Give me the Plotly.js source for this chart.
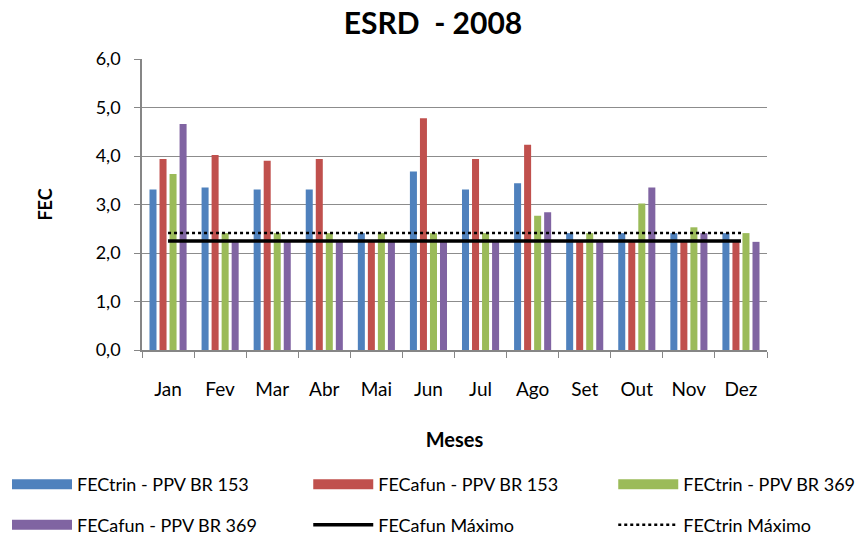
<!DOCTYPE html>
<html>
<head>
<meta charset="utf-8">
<script src="https://cdn.plot.ly/plotly-3.0.1.min.js"></script>
<style>
  html, body { margin: 0; padding: 0; background: #fff; }
  #chart { width: 866px; height: 537px; }
</style>
</head>
<body>
<div id="chart"></div>
<script>
const meses = ["Jan", "Fev", "Mar", "Abr", "Mai", "Jun", "Jul", "Ago", "Set", "Out", "Nov", "Dez"];

// valores
const trin153 = [3.31, 3.35, 3.31, 3.31, 2.41, 3.68, 3.31, 3.44, 2.41, 2.41, 2.41, 2.41];
const afun153 = [3.94, 4.02, 3.90, 3.94, 2.23, 4.78, 3.94, 4.23, 2.23, 2.23, 2.23, 2.23];
const trin369 = [3.63, 2.41, 2.41, 2.41, 2.41, 2.41, 2.41, 2.77, 2.41, 3.02, 2.53, 2.41];
const afun369 = [4.66, 2.23, 2.23, 2.23, 2.23, 2.23, 2.23, 2.84, 2.23, 3.35, 2.41, 2.23];
const afunMax = [2.25, 2.25, 2.25, 2.25, 2.25, 2.25, 2.25, 2.25, 2.25, 2.25, 2.25, 2.25];
const trinMax = [2.41, 2.41, 2.41, 2.41, 2.41, 2.41, 2.41, 2.41, 2.41, 2.41, 2.41, 2.41];

const nomes = ["FECtrin - PPV BR 153", "FECafun - PPV BR 153", "FECtrin - PPV BR 369", "FECafun - PPV BR 369"];
const cores = ["#4F81BD", "#C0504D", "#9BBB59", "#8064A2"];
const series = [trin153, afun153, trin369, afun369];
// coluna da legenda de cada série (3 colunas, 2 linhas)
const colLeg = ["legend", "legend2", "legend3", "legend"];

const traces = [];
// barras (sem legenda)
series.forEach((s, i) => {
  traces.push({
    type: "bar", x: meses, y: s, name: nomes[i], showlegend: false,
    marker: { color: cores[i], line: { width: 0 } },
    hoverinfo: "y",
  });
});
// entradas de legenda com retângulo largo
series.forEach((s, i) => {
  traces.push({
    type: "scatter", mode: "lines", x: [meses[0]], y: [null], name: nomes[i],
    legend: colLeg[i], legendgroup: "g" + i,
    line: { color: cores[i], width: 10 }, hoverinfo: "skip",
  });
});
traces.push({
  type: "scatter", mode: "lines", x: meses, y: afunMax, name: "FECafun Máximo",
  legend: "legend2", legendgroup: "g4",
  line: { color: "#000", width: 3.5 },
});
traces.push({
  type: "scatter", mode: "lines", x: meses, y: trinMax, name: "FECtrin Máximo",
  legend: "legend3", legendgroup: "g5",
  line: { color: "#000", width: 2.5, dash: "dot" },
});

const F = "Lato, 'Liberation Sans', sans-serif";
const leg = (x) => ({
  orientation: "v", x: x, xanchor: "left", y: -0.399, yanchor: "top",
  font: { size: 18 }, itemwidth: 60, tracegroupgap: 14,
  bgcolor: "rgba(0,0,0,0)",
});

Plotly.newPlot("chart", traces, {
  width: 866, height: 537,
  margin: { l: 142, r: 99, t: 59, b: 187, autoexpand: false },
  paper_bgcolor: "#fff", plot_bgcolor: "#fff",
  font: { family: F, size: 16, color: "#000" },
  separators: ",.",
  title: { text: "<b>ESRD  - 2008</b>", x: 0.5, xanchor: "center", y: 0.975, font: { size: 30, family: F } },
  barmode: "group", bargap: 0.23, bargroupgap: 0.3,
  xaxis: {
    type: "category", showline: true, linecolor: "#868686", linewidth: 1.5,
    ticks: "outside", tickson: "boundaries", ticklen: 6, tickcolor: "#868686",
    showgrid: false, tickfont: { size: 19 }, ticklabelstandoff: 21,
    title: { text: "<b>Meses</b>", font: { size: 20 }, standoff: 34 },
  },
  yaxis: {
    range: [0, 6], dtick: 1, tickformat: ".1f",
    showline: true, linecolor: "#868686", linewidth: 1.5,
    ticks: "outside", ticklen: 6, tickcolor: "#868686",
    gridcolor: "#8c8c8c", gridwidth: 1.2, zeroline: false,
    tickfont: { size: 18 }, ticklabelstandoff: 10,
    title: { text: "<b>FEC</b>", font: { size: 18 }, standoff: 38 },
  },
  showlegend: true,
  legend: leg(-0.216),
  legend2: leg(0.266),
  legend3: leg(0.754),
}, { displayModeBar: false });
</script>
</body>
</html>
